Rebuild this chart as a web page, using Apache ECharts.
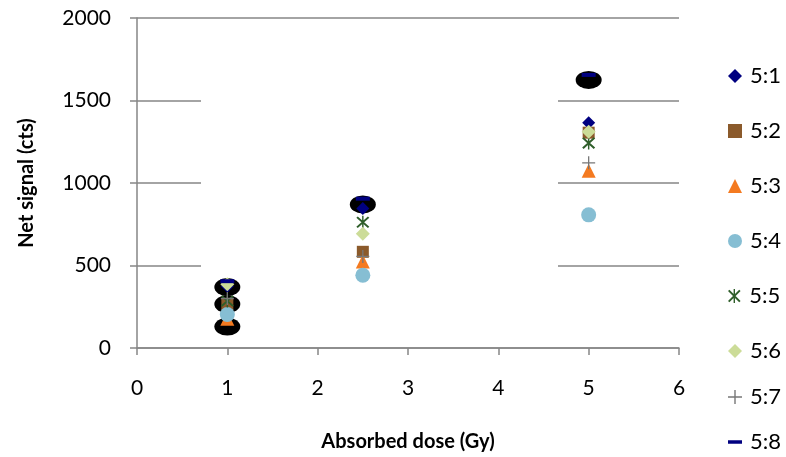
<!DOCTYPE html>
<html>
<head>
<meta charset="utf-8">
<script src="https://cdn.jsdelivr.net/npm/echarts@6/dist/echarts.min.js"></script>
<style>html,body{margin:0;padding:0;background:#fff}#c{width:786px;height:457px}</style>
</head>
<body>
<div id="c"></div>
<script>
// ---- data ----
var seriesNames = ['5:1','5:2','5:3','5:4','5:5','5:6','5:7','5:8'];
var s51 = [[1,375],[2.5,845],[5,1365]];
var s52 = [[1,266],[2.5,583],[5,1305]];
var s53 = [[1,178],[2.5,525],[5,1075]];
var s54 = [[1,203],[2.5,441],[5,807]];
var s55 = [[1,285],[2.5,762],[5,1242]];
var s56 = [[1,387],[2.5,692],[5,1310]];
var s57 = [[1,300],[2.5,555],[5,1122]];
var s58 = [[1,405],[2.5,905],[5,1655]];
var blobs = [[1,369],[1,266],[1,130],[2.5,870],[5,1625]];
var xTicks = [0,1,2,3,4,5,6];
var yTicks = [0,500,1000,1500,2000];

// ---- styles ----
var FONT = 'Lato, "Open Sans", sans-serif';
var STAR = 'path://M1,3 L3,1 L19,17 L17,19 Z M17,1 L19,3 L3,19 L1,17 Z M9,0 L11,0 L11,20 L9,20 Z';
var PLUS = 'path://M9,0 L11,0 L11,9 L20,9 L20,11 L11,11 L11,20 L9,20 L9,11 L0,11 L0,9 L9,9 Z';
var DASH = 'path://M0,0 L16,0 L16,4 L0,4 Z';
var styles = [
  {data:s51, symbol:'diamond', size:13, color:'#000080'},
  {data:s52, symbol:'rect', size:12, color:'#8B5A2B'},
  {data:s53, symbol:'triangle', size:14, color:'#F47A20'},
  {data:s54, symbol:'circle', size:15, color:'#86BED3'},
  {data:s55, symbol:STAR, size:13, color:'#2F5E2A'},
  {data:s56, symbol:'diamond', size:14, color:'#CCDC98'},
  {data:s57, symbol:PLUS, size:13, color:'#777777'},
  {data:s58, symbol:DASH, size:[14,4], color:'#000080'}
];
var legendY = [71,126,181,236,291,346,392,437];

var series = [{
  name:'blob', type:'scatter', data:blobs, symbol:'circle', symbolSize:[26,18],
  itemStyle:{color:'#000', opacity:1}, silent:true, z:2
}];
styles.forEach(function(s,i){
  series.push({name:seriesNames[i], type:'scatter', data:s.data, symbol:s.symbol,
    symbolSize:s.size, itemStyle:{color:s.color, opacity:1}, z:3+i});
});

var legends = seriesNames.map(function(n,i){
  var item = {name:n};
  if (i===7) item.icon = DASH;
  if (i===4) item.icon = STAR;
  if (i===6) item.icon = PLUS;
  return {data:[item], left:723, top:legendY[i]-11, itemWidth:14, itemHeight:14,
    itemGap:0, orient:'vertical', selectedMode:false,
    textStyle:{fontFamily:FONT, fontSize:22, color:'#000', padding:[0,0,0,3]}};
});

var chart = echarts.init(document.getElementById('c'), null, {renderer:'canvas'});
chart.setOption({
  animation:false,
  backgroundColor:'#fff',
  grid:{left:137, right:107, top:18, bottom:108, containLabel:false},
  legend:legends,
  xAxis:{type:'value', min:xTicks[0], max:xTicks[xTicks.length-1], interval:1,
    name:'Absorbed dose (Gy)', nameLocation:'middle', nameGap:84,
    nameTextStyle:{fontFamily:FONT, fontSize:20, fontWeight:'bold', color:'#000'},
    axisLine:{show:true, lineStyle:{color:'#868686', width:1.5}},
    axisTick:{show:true, length:7, lineStyle:{color:'#868686', width:1.5}},
    axisLabel:{fontFamily:FONT, fontSize:21, color:'#000', margin:30},
    splitLine:{show:false}},
  yAxis:{type:'value', min:yTicks[0], max:yTicks[yTicks.length-1], interval:500,
    name:'Net signal (cts)', nameLocation:'middle', nameGap:100,
    nameTextStyle:{fontFamily:FONT, fontSize:20, fontWeight:'bold', color:'#000'},
    axisLine:{show:true, lineStyle:{color:'#868686', width:1.5}},
    axisTick:{show:true, length:7, lineStyle:{color:'#868686', width:1.5}},
    axisLabel:{fontFamily:FONT, fontSize:21, color:'#000', margin:26,
      formatter:function(v){return String(v);}},
    splitLine:{show:true, lineStyle:{color:'#868686', width:1.5}}},
  graphic:[{type:'rect', shape:{x:201, y:30, width:357, height:310},
    style:{fill:'#fff'}, z:1, silent:true}],
  series:series
});
</script>
</body>
</html>
